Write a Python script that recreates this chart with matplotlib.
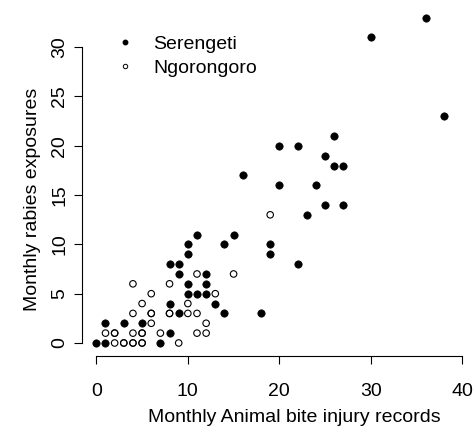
import matplotlib
matplotlib.use('Agg')
import matplotlib.pyplot as plt
from matplotlib.lines import Line2D

plt.rcParams['font.family'] = ['Liberation Sans', 'DejaVu Sans']
plt.rcParams['font.size'] = 14

# monthly bite injury records (x) vs monthly rabies exposures (y)
serengeti_x = [0, 1, 7, 8, 1, 3, 5, 9, 14, 18, 8, 13, 10, 11, 12, 10, 12, 9, 12,
               8, 9, 22, 10, 19, 10, 14, 19, 11, 15, 23, 25, 27, 20, 24, 16, 26, 27,
               25, 20, 22, 26, 38, 30, 36]
serengeti_y = [0, 0, 0, 1, 2, 2, 2, 3, 3, 3, 4, 4, 5, 5, 5, 6, 6, 7, 7,
               8, 8, 8, 9, 9, 10, 10, 10, 11, 11, 13, 14, 14, 16, 16, 17, 18, 18,
               19, 20, 20, 21, 23, 31, 33]
ngoro_x = [2, 3, 3, 4, 4, 5, 5, 9, 1, 2, 2, 4, 5, 5, 7, 11, 12, 6, 12,
           4, 6, 6, 8, 8, 10, 11, 5, 10, 6, 13, 4, 8, 11, 15, 19]
ngoro_y = [0, 0, 0, 0, 0, 0, 0, 0, 1, 1, 1, 1, 1, 1, 1, 1, 1, 2, 2,
           3, 3, 3, 3, 3, 3, 3, 4, 4, 5, 5, 6, 6, 7, 7, 13]

W, H = 475, 429
fig = plt.figure(figsize=(W / 100, H / 100), dpi=100)
# plot region in pixels: left 81.7, right 477, top 4.6, bottom 356
ax = fig.add_axes([81.7 / W, (H - 356) / H, 395.3 / W, 351.4 / H])
ax.set_xlim(-1.6, 41.6)
ax.set_ylim(-1.32, 34.32)

ax.scatter(serengeti_x, serengeti_y, s=28, c='black', edgecolors='black',
           linewidths=0.5, clip_on=False, zorder=3)
ax.scatter(ngoro_x, ngoro_y, s=22, facecolors='none', edgecolors='black',
           linewidths=0.8, clip_on=False, zorder=3)

for side in ['top', 'right']:
    ax.spines[side].set_visible(False)
ax.spines['left'].set_bounds(0, 30)
ax.spines['bottom'].set_bounds(0, 40)
for side in ['left', 'bottom']:
    ax.spines[side].set_linewidth(0.8)

ax.set_xticks([0, 10, 20, 30, 40])
ax.set_yticks([0, 5, 10, 15, 20, 25, 30])
ax.tick_params(axis='both', length=5.8, width=0.8, labelsize=14)
ax.tick_params(axis='x', pad=14)
ax.tick_params(axis='y', pad=4, labelrotation=90)
plt.setp(ax.get_yticklabels(), va='center')

fig.text(294 / W, (H - 422) / H, 'Monthly Animal bite injury records',
         ha='center', va='baseline', fontsize=14)
fig.text(37.3 / W, (H - 199) / H, 'Monthly rabies exposures', rotation=90,
         rotation_mode='anchor', ha='center', va='baseline', fontsize=14)

handles = [Line2D([], [], marker='o', ls='none', color='black', ms=3.2),
           Line2D([], [], marker='o', ls='none', color='black', mfc='white',
                  ms=3.2, mew=0.7)]
ax.legend(handles, ['Serengeti', 'Ngorongoro'], loc='upper left',
          bbox_to_anchor=(115.3 / W, (H - 35) / H), bbox_transform=fig.transFigure,
          frameon=False, borderpad=0, borderaxespad=0, handlelength=1.0,
          handletextpad=0.94, labelspacing=0.35, fontsize=14)

fig.savefig('out.png', dpi=100)
